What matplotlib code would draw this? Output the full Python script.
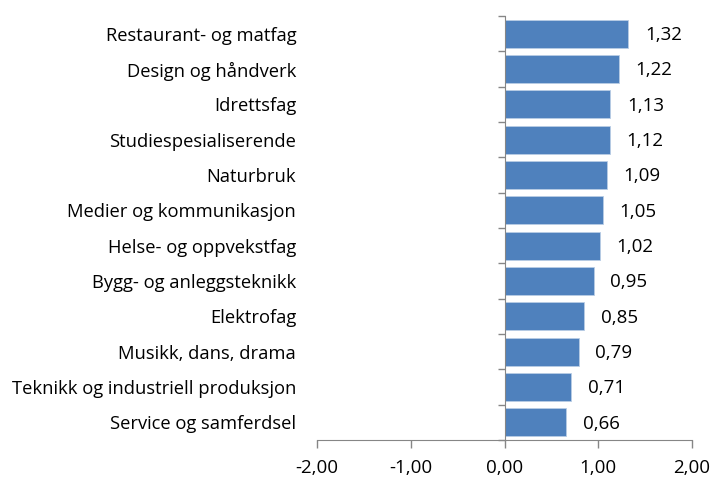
import matplotlib
matplotlib.use("Agg")
import matplotlib.pyplot as plt
import numpy as np

categories = ["Restaurant- og matfag", "Design og håndverk", "Idrettsfag",
              "Studiespesialiserende", "Naturbruk", "Medier og kommunikasjon",
              "Helse- og oppvekstfag", "Bygg- og anleggsteknikk", "Elektrofag",
              "Musikk, dans, drama", "Teknikk og industriell produksjon",
              "Service og samferdsel"]
values = [1.32, 1.22, 1.13, 1.12, 1.09, 1.05, 1.02, 0.95, 0.85, 0.79, 0.71, 0.66]
xticks = [-2, -1, 0, 1, 2]

plt.rcParams['font.family'] = ['Open Sans', 'DejaVu Sans']
FS = 13.5
FS_CAT = 13.2
AX = '#868686'

fig = plt.figure(figsize=(7.13, 4.78), dpi=100)
ax = fig.add_axes([317/713, 1-440/478, (692-317)/713, (440-16)/478])

n = len(categories)
pos = np.arange(n)[::-1]
bars = ax.barh(pos, values, height=0.79, color='#4F81BD', edgecolor='#B9CDE5', linewidth=0.6)

for b, v in zip(bars, values):
    ax.annotate(f"{v:.2f}".replace('.', ','), xy=(b.get_width(), b.get_y() + b.get_height()/2),
                xytext=(12, -1), textcoords='offset points', ha='left', va='center',
                fontsize=FS, color='black')

ax.set_xlim(-2, 2)
ax.set_ylim(-0.5, n - 0.5)
ax.set_xticks(xticks)
ax.set_xticklabels([f"{t:.2f}".replace('.', ',') for t in xticks], fontsize=FS)
ax.tick_params(axis='x', length=6, width=1, color=AX, pad=8)

for s in ['top', 'right']:
    ax.spines[s].set_visible(False)
ax.spines['bottom'].set_color(AX)
ax.spines['left'].set_color(AX)
ax.spines['left'].set_position(('data', 0))

ax.set_yticks(pos)
ax.set_yticklabels([])
ax.tick_params(axis='y', which='major', length=0)
ax.set_yticks(np.arange(n + 1) - 0.5, minor=True)
ax.tick_params(axis='y', which='minor', length=5, width=1, color=AX, direction='out')

sec = ax.secondary_yaxis(0.0)
sec.set_yticks(pos)
sec.set_yticklabels(categories, fontsize=FS_CAT)
sec.tick_params(length=0, pad=15)
sec.spines['left'].set_visible(False)

fig.savefig("out.png", dpi=100)
